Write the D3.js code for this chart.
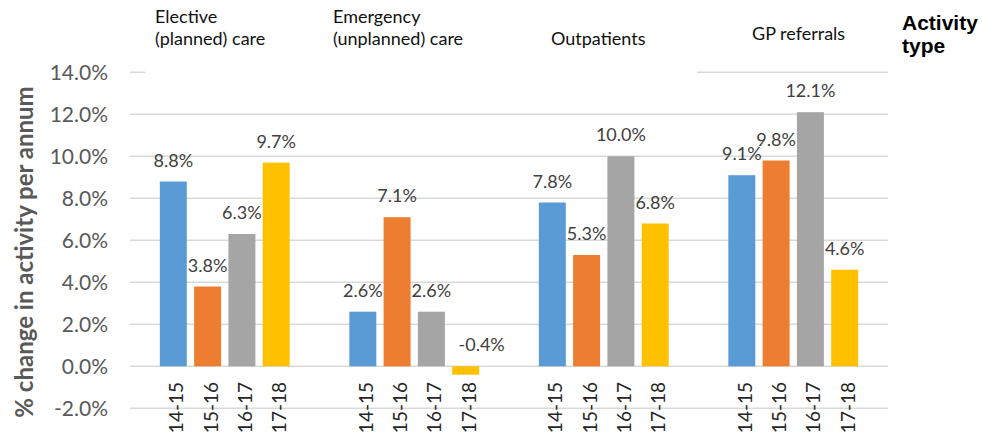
<!DOCTYPE html>
<html>
<head>
<meta charset="utf-8">
<script src="https://cdn.jsdelivr.net/npm/d3@7"></script>
<style>
  html, body { margin: 0; padding: 0; background: #fff; }
  svg { display: block; font-family: Lato, "Open Sans", sans-serif; }
</style>
</head>
<body>
<div id="chart"></div>
<script>
// activity types and financial years
const categories = ["Elective", "Emergency", "Outpatients", "GP referrals"];
const categoryTitles = [
  ["Elective", "(planned) care"],
  ["Emergency", "(unplanned) care"],
  ["Outpatients"],
  ["GP referrals"]
];
const years = ["14-15", "15-16", "16-17", "17-18"];

// % change per annum, one array per year
const y1415 = [8.8, 2.6, 7.8, 9.1];
const y1516 = [3.8, 7.1, 5.3, 9.8];
const y1617 = [6.3, 2.6, 10.0, 12.1];
const y1718 = [9.7, -0.4, 6.8, 4.6];

const yTicks = [-2, 0, 2, 4, 6, 8, 10, 12, 14];
const colors = ["#5B9BD5", "#ED7D31", "#A5A5A5", "#FFC000"];

const width = 982, height = 432;
const margin = { top: 72, bottom: 24, left: 130, right: 94 };

const series = [y1415, y1516, y1617, y1718];
const data = categories.map((c, i) => ({
  cat: c,
  values: years.map((y, j) => ({ year: y, value: series[j][i], idx: j }))
}));

const svg = d3.select('#chart').append('svg')
  .attr('width', width)
  .attr('height', height);

// scales
const x0 = d3.scaleBand().domain(categories).range([margin.left, width - margin.right]).padding(0);
const x1 = d3.scaleBand().domain(years).range([0, x0.bandwidth()])
  .paddingInner(0.213).paddingOuter(0.87);
const y = d3.scaleLinear().domain([-2, 14]).range([408.3, 72.3]);

// gridlines
svg.append('g')
  .attr('class', 'grid')
  .selectAll('line')
  .data(yTicks)
  .enter().append('line')
  .attr('x1', margin.left)
  .attr('x2', width - margin.right)
  .attr('y1', d => y(d))
  .attr('y2', d => y(d))
  .attr('stroke', '#D9D9D9')
  .attr('stroke-width', 1.5);

// y axis tick labels
const yAxis = svg.append('g')
  .attr('class', 'axis axis-y')
  .attr('transform', `translate(${margin.left - 22}, 0)`)
  .call(d3.axisLeft(y).tickValues(yTicks).tickSize(0).tickPadding(0).tickFormat(d => d.toFixed(1) + '%'));
yAxis.select('.domain').remove();
yAxis.selectAll('text')
  .attr('fill', '#595959')
  .style('font-size', '21px')
  .style('font-family', 'Lato, sans-serif');

// y axis title
svg.append('text')
  .attr('transform', `translate(33, ${(82 + 422) / 2}) rotate(-90)`)
  .attr('text-anchor', 'middle')
  .attr('fill', '#595959')
  .style('font-size', '24px')
  .style('font-weight', 'bold')
  .text('% change in activity per annum');

// white title boxes cover part of the top gridline
svg.append('rect')
  .attr('x', 145).attr('y', 0)
  .attr('width', 552).attr('height', y(14) + 2)
  .attr('fill', '#fff');

// bars
const groups = svg.append('g').attr('class', 'bars')
  .selectAll('g')
  .data(data)
  .enter().append('g')
  .attr('transform', d => `translate(${x0(d.cat)}, 0)`);

groups.selectAll('rect')
  .data(d => d.values)
  .enter().append('rect')
  .attr('x', d => x1(d.year))
  .attr('width', x1.bandwidth())
  .attr('y', d => y(Math.max(d.value, 0)))
  .attr('height', d => Math.abs(y(d.value) - y(0)))
  .attr('fill', d => colors[d.idx]);

// value labels
groups.selectAll('text.value')
  .data(d => d.values)
  .enter().append('text')
  .attr('class', 'value')
  .attr('x', d => x1(d.year) + x1.bandwidth() / 2 + (d.value < 0 ? 16 : 0))
  .attr('y', d => y(Math.max(d.value, 0)) - 15)
  .attr('text-anchor', 'middle')
  .attr('fill', '#404040')
  .style('font-size', '18px')
  .text(d => d.value.toFixed(1) + '%');

// rotated year labels
groups.selectAll('text.year')
  .data(d => d.values)
  .enter().append('text')
  .attr('class', 'year')
  .attr('transform', d => `translate(${x1(d.year) + x1.bandwidth() / 2 + 10}, 382) rotate(-90)`)
  .attr('text-anchor', 'end')
  .attr('fill', '#262626')
  .style('font-size', '19px')
  .text(d => d.year);

// category titles (placed text boxes)
const titleOffsets = [[25, 23], [13.5, 23], [42, 45], [53.5, 40]];
categoryTitles.forEach((lines, i) => {
  const t = svg.append('text')
    .attr('x', x0(categories[i]) + titleOffsets[i][0])
    .attr('y', titleOffsets[i][1])
    .attr('fill', '#111')
    .style('font-size', '18px');
  lines.forEach((l, k) => {
    t.append('tspan')
      .attr('x', x0(categories[i]) + titleOffsets[i][0])
      .attr('dy', k === 0 ? 0 : 22)
      .text(l);
  });
});

// legend title
const legendTitle = svg.append('text')
  .attr('x', 902)
  .attr('y', 30)
  .attr('fill', '#000')
  .style('font-family', '"Liberation Sans", Arial, sans-serif')
  .style('font-weight', 'bold')
  .style('font-size', '21px');
legendTitle.append('tspan').attr('x', 902).attr('dy', 0).text('Activity');
legendTitle.append('tspan').attr('x', 902).attr('dy', 23).text('type');
</script>
</body>
</html>
